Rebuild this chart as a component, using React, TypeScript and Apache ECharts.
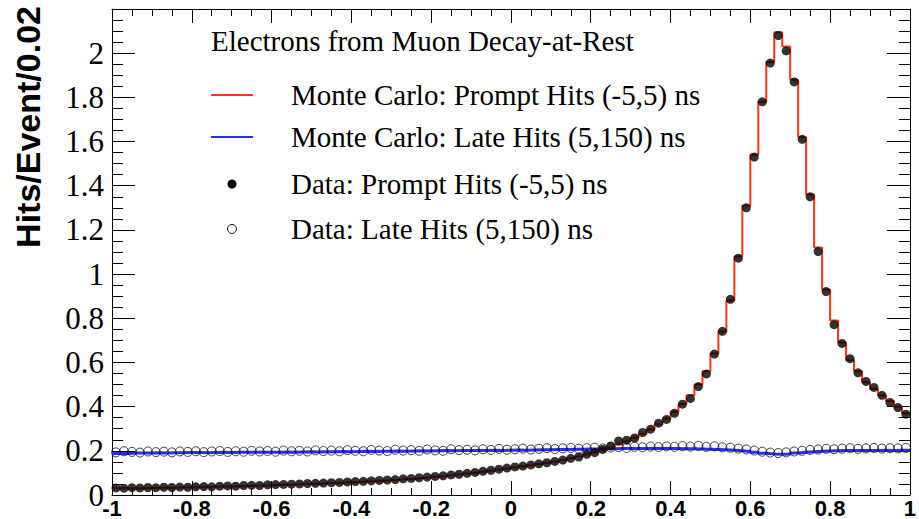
import React, { useEffect, useRef } from "react";
import * as echarts from "echarts";

// Histogram binning: 100 bins of width 0.02 from -1 to 1
const BIN_MIN = -1;
const BIN_WIDTH = 0.02;

// Monte Carlo: Prompt Hits (-5,5) ns
const promptMC = [
  0.030, 0.030, 0.031, 0.031, 0.032, 0.032, 0.033, 0.033, 0.034, 0.035,
  0.035, 0.036, 0.037, 0.038, 0.039, 0.040, 0.041, 0.042, 0.043, 0.044,
  0.045, 0.046, 0.047, 0.049, 0.050, 0.051, 0.053, 0.054, 0.056, 0.058,
  0.059, 0.061, 0.063, 0.065, 0.067, 0.069, 0.072, 0.074, 0.077, 0.080,
  0.083, 0.086, 0.089, 0.093, 0.097, 0.101, 0.105, 0.110, 0.115, 0.120,
  0.125, 0.130, 0.135, 0.140, 0.146, 0.152, 0.159, 0.166, 0.174, 0.183,
  0.193, 0.204, 0.216, 0.229, 0.243, 0.259, 0.277, 0.297, 0.320, 0.346,
  0.377, 0.412, 0.452, 0.500, 0.560, 0.640, 0.740, 0.880, 1.080, 1.310,
  1.540, 1.780, 1.960, 2.095, 2.030, 1.880, 1.620, 1.360, 1.120, 0.930,
  0.790, 0.690, 0.610, 0.560, 0.510, 0.480, 0.450, 0.425, 0.400, 0.370,
];

// Monte Carlo: Late Hits (5,150) ns
const lateMC = [
  0.188, 0.188, 0.190, 0.190, 0.190, 0.191, 0.190, 0.191, 0.191, 0.192,
  0.192, 0.191, 0.192, 0.193, 0.192, 0.193, 0.193, 0.194, 0.193, 0.194,
  0.194, 0.195, 0.194, 0.195, 0.196, 0.195, 0.196, 0.196, 0.197, 0.196,
  0.197, 0.198, 0.197, 0.198, 0.198, 0.199, 0.198, 0.199, 0.200, 0.199,
  0.200, 0.201, 0.200, 0.201, 0.202, 0.201, 0.202, 0.203, 0.202, 0.203,
  0.204, 0.203, 0.204, 0.205, 0.205, 0.206, 0.206, 0.207, 0.207, 0.208,
  0.208, 0.209, 0.209, 0.210, 0.210, 0.210, 0.211, 0.210, 0.211, 0.210,
  0.210, 0.209, 0.209, 0.208, 0.207, 0.206, 0.205, 0.203, 0.200, 0.197,
  0.193, 0.189, 0.186, 0.184, 0.186, 0.190, 0.193, 0.196, 0.198, 0.199,
  0.200, 0.201, 0.201, 0.202, 0.202, 0.202, 0.203, 0.202, 0.203, 0.203,
];

// Data: Prompt Hits (-5,5) ns
const promptData = [
  0.032, 0.031, 0.033, 0.032, 0.034, 0.033, 0.035, 0.034, 0.036, 0.035,
  0.037, 0.038, 0.037, 0.040, 0.041, 0.040, 0.043, 0.044, 0.043, 0.046,
  0.047, 0.048, 0.049, 0.050, 0.052, 0.053, 0.054, 0.056, 0.057, 0.059,
  0.061, 0.062, 0.064, 0.066, 0.068, 0.070, 0.073, 0.075, 0.078, 0.081,
  0.084, 0.087, 0.091, 0.094, 0.098, 0.102, 0.107, 0.112, 0.117, 0.122,
  0.127, 0.131, 0.136, 0.141, 0.146, 0.152, 0.158, 0.166, 0.172, 0.184,
  0.192, 0.207, 0.222, 0.245, 0.248, 0.258, 0.283, 0.298, 0.325, 0.342,
  0.370, 0.411, 0.437, 0.491, 0.548, 0.638, 0.741, 0.886, 1.072, 1.300,
  1.530, 1.780, 1.955, 2.080, 2.010, 1.870, 1.610, 1.350, 1.102, 0.921,
  0.771, 0.686, 0.617, 0.553, 0.514, 0.487, 0.451, 0.419, 0.396, 0.366,
];

// Data: Late Hits (5,150) ns
const lateData = [
  0.193, 0.198, 0.195, 0.192, 0.197, 0.194, 0.196, 0.193, 0.197, 0.195,
  0.198, 0.194, 0.197, 0.199, 0.195, 0.198, 0.196, 0.200, 0.197, 0.199,
  0.196, 0.201, 0.198, 0.200, 0.197, 0.202, 0.199, 0.201, 0.198, 0.203,
  0.200, 0.198, 0.204, 0.201, 0.199, 0.205, 0.201, 0.203, 0.200, 0.206,
  0.202, 0.200, 0.207, 0.203, 0.205, 0.202, 0.207, 0.204, 0.209, 0.205,
  0.207, 0.210, 0.206, 0.209, 0.212, 0.208, 0.211, 0.213, 0.209, 0.212,
  0.214, 0.211, 0.215, 0.217, 0.213, 0.218, 0.216, 0.219, 0.217, 0.220,
  0.218, 0.221, 0.219, 0.222, 0.218, 0.220, 0.216, 0.214, 0.210, 0.206,
  0.201, 0.196, 0.192, 0.190, 0.193, 0.197, 0.200, 0.204, 0.206, 0.209,
  0.207, 0.210, 0.212, 0.209, 0.211, 0.213, 0.210, 0.212, 0.211, 0.213,
];

const LEGEND_TITLE = "Electrons from Muon Decay-at-Rest";
const LEGEND_LABELS = [
  "Monte Carlo: Prompt Hits (-5,5) ns",
  "Monte Carlo: Late Hits (5,150) ns",
  "Data: Prompt Hits (-5,5) ns",
  "Data: Late Hits (5,150) ns",
];
const Y_TITLE = "Hits/Event/0.02";

const RED = "#ff3516";
const BLUE = "#2a2cff";

const r4 = (v: number) => Math.round(v * 10000) / 10000;
const stepData = (vals: number[]) =>
  vals
    .map((v, i) => [r4(BIN_MIN + i * BIN_WIDTH), v])
    .concat([[r4(BIN_MIN + vals.length * BIN_WIDTH), vals[vals.length - 1]]]);
const pointData = (vals: number[]) =>
  vals.map((v, i) => [r4(BIN_MIN + (i + 0.5) * BIN_WIDTH), v]);

export default function App() {
  const ref = useRef<HTMLDivElement>(null);

  useEffect(() => {
    if (!ref.current) return;
    const chart = echarts.init(ref.current, undefined, { renderer: "svg" });

    const serif = "Liberation Serif";
    const sans = "Liberation Sans";

    const xCommon = {
      type: "value" as const,
      min: -1,
      max: 1,
      interval: 0.2,
      splitLine: { show: false },
      axisLine: { show: true, onZero: false, lineStyle: { color: "#000", width: 1 } },
      axisTick: { show: true, inside: true, length: 14, lineStyle: { color: "#000", width: 1 } },
      minorTick: { show: true, splitNumber: 4, length: 7, lineStyle: { color: "#000", width: 1 } },
    };
    const yCommon = {
      type: "value" as const,
      min: 0,
      max: 2.2,
      interval: 0.2,
      splitLine: { show: false },
      axisLine: { show: true, onZero: false, lineStyle: { color: "#000", width: 1 } },
      axisTick: { show: true, inside: true, length: 23, lineStyle: { color: "#000", width: 1 } },
      minorTick: { show: true, splitNumber: 4, length: 11, lineStyle: { color: "#000", width: 1 } },
    };

    const legendX = 211;
    const textX = 291;
    const rows = [95, 137, 184, 229];

    chart.setOption({
      animation: false,
      backgroundColor: "#fff",
      grid: { left: 112, right: 8, top: 9, bottom: 24, containLabel: false },
      xAxis: [
        {
          ...xCommon,
          position: "bottom",
          axisLabel: {
            show: true,
            color: "#000",
            fontFamily: sans,
            fontWeight: "bold",
            fontSize: 22,
            margin: 2,
          },
        },
        { ...xCommon, position: "top", axisLabel: { show: false } },
      ],
      yAxis: [
        {
          ...yCommon,
          position: "left",
          axisLabel: {
            show: true,
            color: "#000",
            fontFamily: serif,
            fontSize: 31,
            margin: 8,
            showMaxLabel: false,
          },
        },
        { ...yCommon, position: "right", axisLabel: { show: false } },
      ],
      series: [
        {
          name: LEGEND_LABELS[1],
          type: "line",
          step: "end",
          data: stepData(lateMC),
          showSymbol: false,
          symbol: "none",
          lineStyle: { color: BLUE, width: 3 },
          z: 2,
        },
        {
          name: LEGEND_LABELS[0],
          type: "line",
          step: "end",
          data: stepData(promptMC),
          showSymbol: false,
          symbol: "none",
          lineStyle: { color: RED, width: 2 },
          z: 3,
        },
        {
          name: LEGEND_LABELS[2],
          type: "scatter",
          data: pointData(promptData),
          symbol: "circle",
          symbolSize: 9,
          itemStyle: { color: "#000" },
          z: 4,
        },
        {
          name: LEGEND_LABELS[3],
          type: "scatter",
          data: pointData(lateData),
          symbol: "circle",
          symbolSize: 9,
          itemStyle: { color: "rgba(255,255,255,0)", borderColor: "#111", borderWidth: 1 },
          z: 5,
        },
      ],
      graphic: [
        {
          type: "text",
          x: 28,
          y: 6,
          rotation: Math.PI / 2,
          style: {
            text: Y_TITLE,
            fill: "#000",
            font: `bold 34px "${sans}"`,
            align: "right",
            verticalAlign: "middle",
          },
        },
        {
          type: "text",
          x: legendX,
          y: 41,
          style: {
            text: LEGEND_TITLE,
            fill: "#000",
            font: `29px "${serif}"`,
            align: "left",
            verticalAlign: "middle",
          },
        },
        {
          type: "line",
          shape: { x1: legendX, y1: rows[0], x2: legendX + 42, y2: rows[0] },
          style: { stroke: RED, lineWidth: 2 },
        },
        {
          type: "line",
          shape: { x1: legendX, y1: rows[1], x2: legendX + 42, y2: rows[1] },
          style: { stroke: BLUE, lineWidth: 2 },
        },
        {
          type: "circle",
          shape: { cx: legendX + 21, cy: rows[2], r: 4.5 },
          style: { fill: "#000" },
        },
        {
          type: "circle",
          shape: { cx: legendX + 21, cy: rows[3], r: 4.5 },
          style: { fill: "none", stroke: "#111", lineWidth: 1 },
        },
        ...LEGEND_LABELS.map((t, i) => ({
          type: "text",
          x: textX,
          y: rows[i],
          style: {
            text: t,
            fill: "#000",
            font: `29px "${serif}"`,
            align: "left",
            verticalAlign: "middle",
          },
        })),
      ],
    });

    return () => chart.dispose();
  }, []);

  return (
    <div
      ref={ref}
      style={{ position: "fixed", left: 0, top: 0, width: 919, height: 519, background: "#fff" }}
    />
  );
}
